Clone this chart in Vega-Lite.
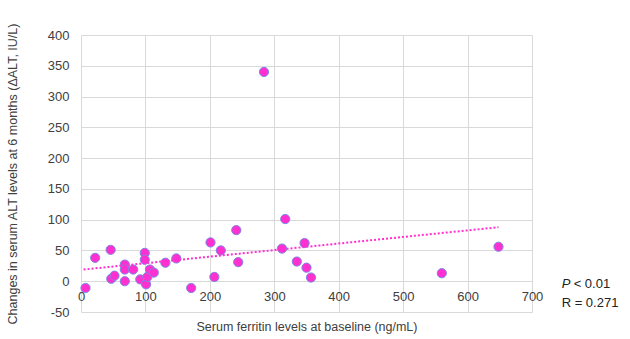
{
  "$schema": "https://vega.github.io/schema/vega-lite/v6.json",
  "autosize": "none",
  "width": 451,
  "height": 277,
  "padding": {"left": 81, "top": 35, "right": 98, "bottom": 27},
  "background": "white",
  "config": {
    "view": {"stroke": null},
    "font": "Liberation Sans"
  },
  "datasets": {
    "points": [
      {"ferritin": 7, "dalt": -11},
      {"ferritin": 22, "dalt": 38},
      {"ferritin": 46, "dalt": 51},
      {"ferritin": 47, "dalt": 4},
      {"ferritin": 52, "dalt": 9},
      {"ferritin": 68, "dalt": 27},
      {"ferritin": 68, "dalt": 19},
      {"ferritin": 68, "dalt": 0},
      {"ferritin": 81, "dalt": 19},
      {"ferritin": 92, "dalt": 3},
      {"ferritin": 99, "dalt": 46},
      {"ferritin": 99, "dalt": 35},
      {"ferritin": 101, "dalt": -5},
      {"ferritin": 103, "dalt": 7},
      {"ferritin": 107, "dalt": 19},
      {"ferritin": 113, "dalt": 14},
      {"ferritin": 131, "dalt": 30},
      {"ferritin": 148, "dalt": 37},
      {"ferritin": 171, "dalt": -11},
      {"ferritin": 201, "dalt": 63},
      {"ferritin": 207, "dalt": 7},
      {"ferritin": 217, "dalt": 50},
      {"ferritin": 241, "dalt": 83},
      {"ferritin": 244, "dalt": 31},
      {"ferritin": 284, "dalt": 340},
      {"ferritin": 312, "dalt": 53},
      {"ferritin": 317, "dalt": 101},
      {"ferritin": 335, "dalt": 32},
      {"ferritin": 347, "dalt": 62},
      {"ferritin": 350, "dalt": 22},
      {"ferritin": 357, "dalt": 6},
      {"ferritin": 560, "dalt": 13},
      {"ferritin": 648, "dalt": 56}
    ],
    "trend": [
      {"ferritin": 4, "dalt": 19},
      {"ferritin": 648, "dalt": 87.7}
    ],
    "notes": [
      {"ferritin": 746, "dalt": -4, "line": "< 0.01", "italic": "P"},
      {"ferritin": 746, "dalt": -36, "line": "R = 0.271", "italic": ""}
    ]
  },
  "layer": [
    {
      "data": {"name": "points"},
      "mark": {"type": "point", "filled": true, "size": 85, "color": "#FF2FD0", "stroke": "#7B86E8", "strokeWidth": 1, "opacity": 1},
      "encoding": {
        "x": {
          "field": "ferritin", "type": "quantitative",
          "scale": {"domain": [0, 700], "nice": false, "zero": false},
          "axis": {
            "values": [0, 100, 200, 300, 400, 500, 600, 700],
            "tickCount": 20,
            "title": "Serum ferritin levels at baseline (ng/mL)",
            "titleFont": "Liberation Sans", "titleFontSize": 12.5, "titleFontWeight": "normal", "titleColor": "#404040",
            "titlePadding": 8,
            "labelFont": "Liberation Sans", "labelFontSize": 13, "labelColor": "#404040",
            "labelPadding": -22, "labelBaseline": "top",
            "labelOverlap": false,
            "ticks": false, "domain": false,
            "grid": true, "gridColor": "#D9D9D9", "gridWidth": 1,
            "labelFlush": false
          }
        },
        "y": {
          "field": "dalt", "type": "quantitative",
          "scale": {"domain": [-50, 400], "nice": false, "zero": false},
          "axis": {
            "values": [-50, 0, 50, 100, 150, 200, 250, 300, 350, 400],
            "tickCount": 20,
            "labelExpr": "datum.value < 0 ? '-' + abs(datum.value) : '' + datum.value",
            "title": "Changes in serum ALT levels at 6 months (ΔALT, IU/L)",
            "titleFont": "Liberation Sans", "titleFontSize": 12.5, "titleFontWeight": "normal", "titleColor": "#404040",
            "titlePadding": 28,
            "labelFont": "Liberation Sans", "labelFontSize": 13, "labelColor": "#404040",
            "labelPadding": 12,
            "labelOverlap": false,
            "ticks": false, "domain": false,
            "grid": true, "gridColor": "#D9D9D9", "gridWidth": 1
          }
        }
      }
    },
    {
      "data": {"name": "trend"},
      "mark": {"type": "line", "color": "#FF2FD0", "strokeWidth": 2, "strokeDash": [2, 2]},
      "encoding": {
        "x": {"field": "ferritin", "type": "quantitative"},
        "y": {"field": "dalt", "type": "quantitative"}
      }
    },
    {
      "data": {"name": "notes"},
      "mark": {"type": "text", "align": "left", "baseline": "middle", "font": "Liberation Sans", "fontSize": 13, "fontStyle": "italic", "color": "#222222"},
      "encoding": {
        "x": {"field": "ferritin", "type": "quantitative"},
        "y": {"field": "dalt", "type": "quantitative"},
        "text": {"field": "italic"}
      }
    },
    {
      "data": {"name": "notes"},
      "transform": [{"filter": "datum.italic != ''"}],
      "mark": {"type": "text", "align": "left", "baseline": "middle", "font": "Liberation Sans", "fontSize": 13, "dx": 12, "color": "#222222"},
      "encoding": {
        "x": {"field": "ferritin", "type": "quantitative"},
        "y": {"field": "dalt", "type": "quantitative"},
        "text": {"field": "line"}
      }
    },
    {
      "data": {"name": "notes"},
      "transform": [{"filter": "datum.italic == ''"}],
      "mark": {"type": "text", "align": "left", "baseline": "middle", "font": "Liberation Sans", "fontSize": 13, "color": "#222222"},
      "encoding": {
        "x": {"field": "ferritin", "type": "quantitative"},
        "y": {"field": "dalt", "type": "quantitative"},
        "text": {"field": "line"}
      }
    }
  ]
}
